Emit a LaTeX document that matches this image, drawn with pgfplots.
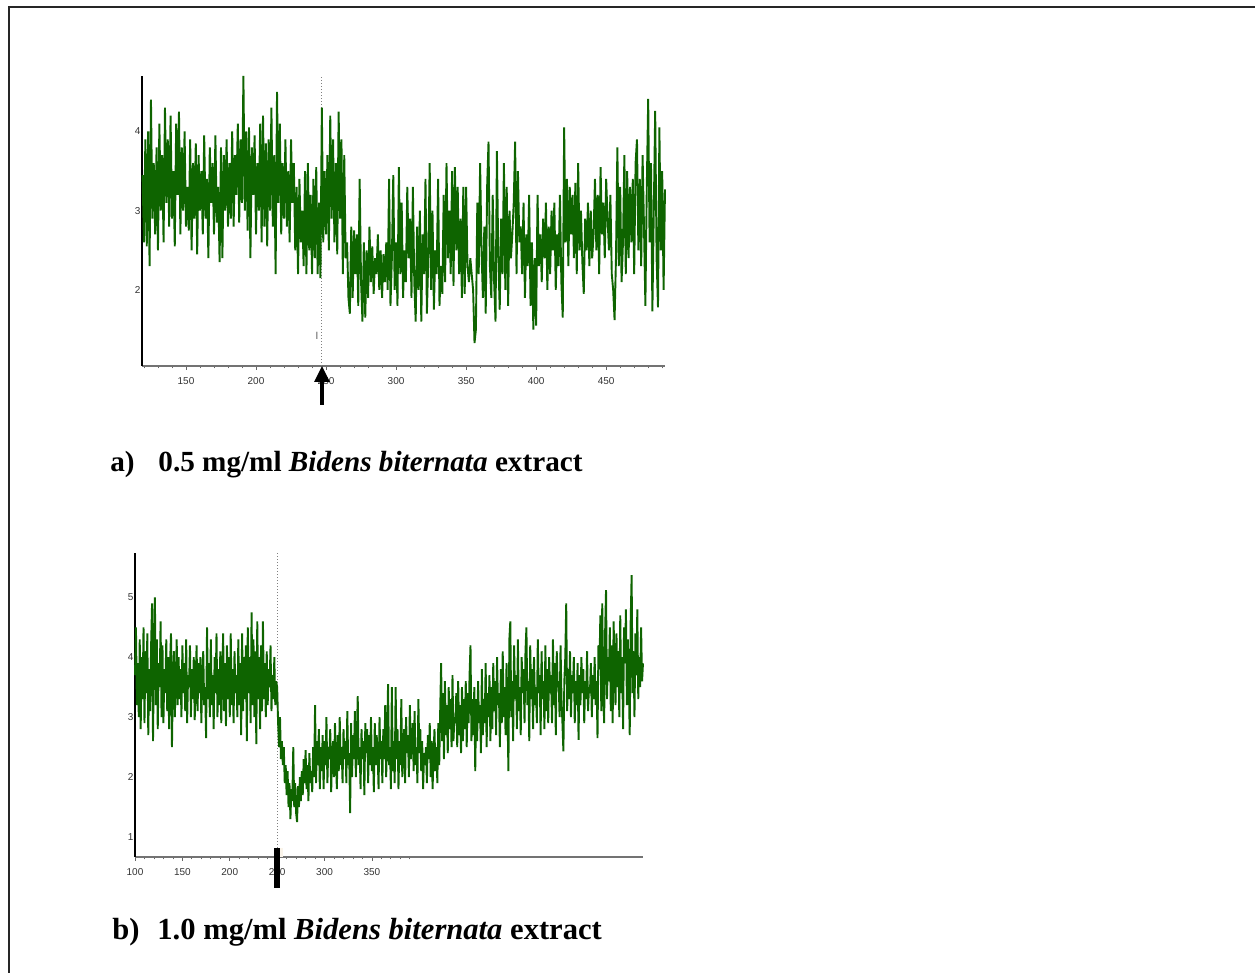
\documentclass[border=0pt]{standalone}
\usepackage{fontspec}
\setmainfont{Liberation Serif}
\newfontfamily\ticksans{Liberation Sans}
\usepackage{pgfplots}
\pgfplotsset{compat=1.18}
\usetikzlibrary{arrows.meta}

\definecolor{trace}{RGB}{14,100,0}

% shared look of the two recordings
\pgfplotsset{
  recording/.style={
    scale only axis,
    clip=false,
    axis x line=bottom, axis y line=left,
    x axis line style={-, draw=black!55, line width=1pt},
    y axis line style={-, draw=black, line width=0.6pt},
    tick align=outside,
    major tick length=2pt, minor tick length=1.2pt,
    xtick style={draw=black!60, line width=0.4pt},
    ytick style={draw=none},
    ticklabel style={font=\ticksans\fontsize{5}{6}\selectfont, text=black!80},
    yticklabel style={xshift=4.7pt},
    /pgf/number format/assume math mode=true,
  },
}

\begin{document}
\begin{tikzpicture}
\path[use as bounding box] (0,0) rectangle (627.5pt,486.5pt);
\draw[line width=1pt, black!85] (4.5pt,-5pt) -- (4.5pt,483pt) -- (640pt,483pt);

% a) 0.5 mg/ml
\begin{axis}[recording,
  at={(71pt,303.5pt)}, anchor=south west,
  width=261.5pt, height=145pt,
  xmin=118.6, xmax=492, ymin=1.04, ymax=4.7,
  xtick={150,200,250,300,350,400,450},
  minor xtick={120,130,140,160,170,180,190,210,220,230,240,260,270,280,290,310,320,330,340,360,370,380,390,410,420,430,440,460,470,480,490},
  ytick={2,3,4},
]
\draw[black!50, densely dotted, line width=0.5pt] (axis cs:247.1,1.04) -- (axis cs:247.1,4.7);
\addplot[trace, line width=0.95pt] coordinates {
(119,3.45)(120,2.6)(121,3.9)(122,2.55)(123,4.0)(124,2.3)(125,4.4)(126,2.9)(127,3.6)(128,2.7)
(129,3.8)(130,2.5)(131,4.1)(132,3.0)(133,3.7)(134,2.6)(135,4.3)(136,3.1)(137,3.9)(138,2.8)
(139,4.2)(140,2.9)(141,3.5)(142,2.55)(143,4.1)(144,3.2)(145,4.25)(146,2.7)(147,3.8)(148,3.0)
(149,4.0)(150,2.8)(151,3.3)(152,2.75)(153,3.9)(154,2.5)(155,3.6)(156,2.9)(157,3.85)(158,2.45)
(159,3.7)(160,3.0)(161,3.5)(162,2.7)(163,3.95)(164,2.9)(165,3.4)(166,2.4)(167,3.8)(168,3.1)
(169,3.6)(170,2.7)(171,3.95)(172,2.85)(173,3.3)(174,2.35)(175,3.8)(176,2.4)(177,3.7)(178,3.0)
(179,3.9)(180,2.8)(181,3.6)(182,2.9)(183,4.0)(184,2.8)(185,3.7)(186,3.2)(187,4.1)(188,2.85)
(189,3.9)(190,3.1)(191,4.7)(192,3.0)(193,4.0)(194,2.75)(195,4.05)(196,2.4)(197,3.8)(198,3.2)
(199,3.95)(200,2.7)(201,3.6)(202,3.0)(203,4.1)(204,2.6)(205,4.2)(206,2.8)(207,3.85)(208,2.55)
(209,3.9)(210,3.0)(211,4.3)(212,2.8)(213,3.7)(214,2.2)(215,4.5)(216,3.1)(217,4.1)(218,2.7)
(219,3.6)(220,2.9)(221,3.9)(222,2.8)(223,3.5)(224,2.6)(225,3.9)(226,3.1)(227,3.6)(228,2.5)
(229,3.3)(230,2.2)(231,3.4)(232,2.6)(233,3.0)(234,2.3)(235,3.5)(236,2.2)(237,3.6)(238,2.5)
(239,3.2)(240,2.2)(241,3.4)(242,2.4)(243,3.55)(244,2.2)(245,3.1)(246,2.15)(247,4.3)(248,2.6)
(249,3.5)(250,2.7)(251,3.7)(252,2.5)(253,4.2)(254,2.9)(255,3.9)(256,2.6)(257,3.6)(258,2.45)
(259,4.25)(260,2.9)(261,3.9)(262,2.2)(263,3.7)(264,2.4)(265,2.6)(266,1.9)(267,1.7)(268,2.8)
(269,1.9)(270,2.75)(271,2.2)(272,2.7)(273,1.8)(274,3.4)(275,2.1)(276,1.6)(277,2.6)(278,1.65)
(279,2.5)(280,1.9)(281,2.8)(282,2.1)(283,2.55)(284,1.95)(285,2.4)(286,2.2)(287,2.7)(288,2.0)
(289,2.5)(290,1.9)(291,2.45)(292,2.1)(293,2.6)(294,2.0)(295,3.4)(296,1.8)(297,2.4)(298,3.45)
(299,2.0)(300,2.6)(301,1.8)(302,3.55)(303,2.2)(304,3.1)(305,1.9)(306,2.5)(307,2.1)(308,3.3)
(309,2.4)(310,2.9)(311,1.9)(312,3.3)(313,2.1)(314,1.6)(315,2.8)(316,2.0)(317,3.0)(318,1.6)
(319,2.7)(320,2.2)(321,3.4)(322,1.7)(323,2.4)(324,3.6)(325,2.0)(326,3.0)(327,1.75)(328,2.5)
(329,2.2)(330,3.4)(331,1.8)(332,2.3)(333,1.95)(334,3.2)(335,2.1)(336,3.6)(337,2.4)(338,3.0)
(339,2.2)(340,3.5)(341,2.05)(342,3.55)(343,2.5)(344,3.3)(345,2.2)(346,2.9)(347,1.9)(348,3.3)
(349,1.95)(350,3.3)(351,2.3)(352,2.1)(353,2.4)(354,2.2)(355,2.0)(356,1.33)(357,1.5)(358,3.1)
(359,2.2)(360,3.6)(361,2.5)(362,1.9)(363,2.8)(364,1.7)(365,3.3)(366,3.87)(367,2.3)(368,1.9)
(369,3.2)(370,2.1)(371,1.6)(372,3.75)(373,2.4)(374,1.75)(375,2.9)(376,2.2)(377,3.6)(378,2.0)
(379,3.3)(380,1.8)(381,3.0)(382,2.4)(383,2.7)(384,3.1)(385,3.87)(386,2.2)(387,3.5)(388,2.6)
(389,2.8)(390,2.2)(391,3.1)(392,1.9)(393,2.7)(394,2.3)(395,3.2)(396,1.8)(397,2.6)(398,1.5)
(399,2.4)(400,1.55)(401,3.2)(402,2.3)(403,2.7)(404,2.1)(405,2.9)(406,2.4)(407,3.1)(408,2.0)
(409,2.8)(410,2.2)(411,3.0)(412,2.5)(413,3.1)(414,2.0)(415,2.7)(416,2.3)(417,3.2)(418,2.1)
(419,1.65)(420,4.05)(421,2.6)(422,3.4)(423,2.3)(424,3.3)(425,2.7)(426,3.2)(427,2.4)(428,3.35)
(429,2.2)(430,3.6)(431,2.5)(432,3.0)(433,2.35)(434,1.95)(435,2.9)(436,2.5)(437,3.1)(438,2.3)
(439,3.0)(440,2.4)(441,2.7)(442,3.4)(443,2.5)(444,3.2)(445,2.2)(446,3.55)(447,2.7)(448,3.1)
(449,2.4)(450,3.4)(451,2.9)(452,2.5)(453,3.2)(454,2.2)(455,2.0)(456,1.62)(457,2.4)(458,3.8)
(459,2.3)(460,3.3)(461,2.1)(462,2.6)(463,3.7)(464,2.2)(465,3.5)(466,2.4)(467,3.3)(468,2.6)
(469,3.4)(470,2.2)(471,3.6)(472,3.9)(473,2.5)(474,3.4)(475,2.3)(476,3.7)(477,2.8)(478,1.8)
(479,3.3)(480,4.41)(481,2.6)(482,3.6)(483,1.73)(484,3.0)(485,4.26)(486,2.4)(487,1.78)(488,4.05)
(489,2.5)(490,3.5)(491,2.0)(492,3.27)
};
\node[font=\ticksans\fontsize{5}{6}\selectfont, text=black!70] at (axis cs:243.6,1.42) {l};
\draw[line width=1.6pt, -{Triangle[width=7.5pt,length=8pt]}]
  (axis cs:247.1,1.04) ++(0pt,-19.5pt) -- (axis cs:247.1,1.04);
\end{axis}

\node[anchor=base west, inner sep=0pt, font=\fontsize{14.6}{17}\selectfont\bfseries] at (55pt,250.5pt) {a)};
\node[anchor=base west, inner sep=0pt, font=\fontsize{14.6}{17}\selectfont\bfseries] at (79pt,250.5pt)
  {0.5 mg/ml \textit{Bidens biternata} extract};

% b) 1.0 mg/ml
\begin{axis}[recording,
  at={(67.5pt,58pt)}, anchor=south west,
  width=254pt, height=152pt,
  xmin=100, xmax=636, ymin=0.667, ymax=5.74,
  xtick={100,150,200,250,300,350},
  minor xtick={110,120,130,140,160,170,180,190,210,220,230,240,260,270,280,290,310,320,330,340,360,370,380,390},
  ytick={1,2,3,4,5},
]
\draw[black!50, densely dotted, line width=0.5pt] (axis cs:250,0.667) -- (axis cs:250,5.74);
\addplot[trace, line width=0.95pt] coordinates {
(100,3.7)(101,4.5)(102,3.2)(103,3.9)(104,3.0)(105,4.3)(106,2.8)(107,4.0)(108,3.3)(109,4.5)
(110,2.9)(111,4.1)(112,3.4)(113,4.4)(114,2.7)(115,3.8)(116,3.1)(117,4.2)(118,4.9)(119,2.6)
(120,4.1)(121,5.0)(122,3.2)(123,4.3)(124,2.8)(125,3.9)(126,3.5)(127,4.6)(128,3.0)(129,4.2)
(130,2.9)(131,3.8)(132,3.4)(133,4.3)(134,3.1)(135,4.0)(136,2.8)(137,3.9)(138,4.4)(139,2.5)
(140,3.7)(141,4.1)(142,3.0)(143,3.6)(144,4.3)(145,3.2)(146,4.0)(147,3.3)(148,3.8)(149,3.0)
(150,4.2)(151,3.4)(152,3.9)(153,3.1)(154,4.3)(155,2.9)(156,3.7)(157,3.5)(158,4.2)(159,3.0)
(160,3.8)(161,3.3)(162,4.0)(163,2.95)(164,3.6)(165,4.2)(166,3.1)(167,3.9)(168,3.4)(169,4.0)
(170,2.9)(171,3.7)(172,4.1)(173,3.2)(174,3.5)(175,2.65)(176,4.5)(177,3.3)(178,3.9)(179,3.0)
(180,4.3)(181,3.2)(182,3.7)(183,2.8)(184,4.0)(185,3.4)(186,4.4)(187,3.0)(188,3.8)(189,3.2)
(190,4.1)(191,2.9)(192,3.6)(193,4.4)(194,3.1)(195,3.9)(196,2.85)(197,4.2)(198,3.3)(199,4.0)
(200,3.0)(201,4.4)(202,3.2)(203,3.8)(204,2.9)(205,4.1)(206,3.4)(207,3.7)(208,3.0)(209,4.3)
(210,3.2)(211,3.9)(212,2.7)(213,4.4)(214,3.1)(215,4.0)(216,3.3)(217,4.2)(218,2.6)(219,4.5)
(220,3.4)(221,4.0)(222,2.9)(223,4.75)(224,3.2)(225,4.3)(226,3.0)(227,4.1)(228,2.55)(229,4.6)
(230,3.3)(231,4.0)(232,2.8)(233,4.2)(234,3.1)(235,4.6)(236,3.3)(237,3.9)(238,3.0)(239,4.1)
(240,3.2)(241,3.8)(242,3.5)(243,4.2)(244,3.1)(245,3.7)(246,3.3)(247,4.0)(248,3.2)(249,3.6)
(250,3.5)(251,2.9)(252,2.5)(253,3.0)(254,2.3)(255,2.6)(256,2.2)(257,2.5)(258,1.9)(259,2.2)
(260,1.7)(261,2.1)(262,1.5)(263,1.9)(264,1.3)(265,1.8)(266,1.6)(267,2.5)(268,1.5)(269,1.9)
(270,1.4)(271,1.25)(272,1.85)(273,1.5)(274,2.0)(275,1.6)(276,2.1)(277,1.7)(278,2.3)(279,1.9)
(280,2.45)(281,1.8)(282,2.2)(283,1.6)(284,2.4)(285,1.9)(286,2.1)(287,1.75)(288,2.5)(289,2.0)
(290,3.2)(291,1.9)(292,2.6)(293,2.2)(294,2.8)(295,1.8)(296,2.5)(297,2.1)(298,2.7)(299,1.8)
(300,2.6)(301,2.2)(302,3.0)(303,1.9)(304,2.5)(305,2.3)(306,2.8)(307,1.75)(308,2.4)(309,2.6)
(310,2.0)(311,2.9)(312,2.3)(313,1.8)(314,2.7)(315,2.1)(316,3.0)(317,2.2)(318,2.5)(319,1.9)
(320,2.8)(321,2.3)(322,2.6)(323,1.9)(324,3.1)(325,2.2)(326,2.4)(327,1.4)(328,2.9)(329,2.0)
(330,2.7)(331,2.3)(332,3.1)(333,2.0)(334,2.6)(335,3.35)(336,2.2)(337,2.5)(338,1.8)(339,2.8)
(340,2.3)(341,2.6)(342,1.7)(343,2.9)(344,2.4)(345,2.8)(346,1.9)(347,2.7)(348,2.2)(349,3.0)
(350,2.1)(351,2.5)(352,1.75)(353,2.9)(354,2.2)(355,2.7)(356,2.4)(357,1.8)(358,3.0)(359,2.3)
(360,2.6)(361,1.9)(362,2.8)(363,2.3)(364,3.2)(365,2.0)(366,2.6)(367,3.55)(368,2.2)(369,2.5)
(370,1.8)(371,3.5)(372,2.1)(373,2.6)(374,1.9)(375,3.5)(376,2.3)(377,2.8)(378,1.8)(379,2.6)
(380,2.2)(381,3.3)(382,2.0)(383,2.5)(384,2.8)(385,1.9)(386,3.0)(387,2.4)(388,2.7)(389,2.0)
(390,3.2)(391,2.3)(392,2.6)(393,2.9)(394,2.1)(395,3.1)(396,2.2)(397,2.5)(398,1.9)(399,3.3)
(400,2.4)(401,2.8)(402,2.1)(403,2.6)(404,1.8)(405,2.4)(406,2.2)(407,2.5)(408,1.9)(409,2.7)
(410,2.3)(411,2.9)(412,2.0)(413,2.6)(414,1.8)(415,2.4)(416,2.8)(417,2.1)(418,2.5)(419,1.9)
(420,2.9)(421,2.2)(422,3.1)(423,3.9)(424,2.6)(425,3.4)(426,2.3)(427,3.6)(428,2.7)(429,3.2)
(430,2.4)(431,3.5)(432,2.8)(433,3.3)(434,2.5)(435,3.7)(436,2.6)(437,3.0)(438,2.9)(439,3.4)
(440,2.5)(441,3.6)(442,2.7)(443,3.2)(444,2.4)(445,3.5)(446,2.6)(447,3.3)(448,2.8)(449,3.6)
(450,2.5)(451,3.4)(452,2.9)(453,3.7)(454,4.2)(455,2.6)(456,3.3)(457,2.7)(458,3.5)(459,2.1)
(460,3.3)(461,2.6)(462,3.6)(463,2.9)(464,3.2)(465,2.4)(466,3.8)(467,2.7)(468,3.3)(469,2.9)
(470,3.9)(471,2.5)(472,3.4)(473,3.0)(474,3.7)(475,2.6)(476,3.5)(477,2.8)(478,3.9)(479,3.1)
(480,3.6)(481,2.7)(482,4.0)(483,3.2)(484,3.4)(485,2.5)(486,3.8)(487,2.9)(488,4.1)(489,3.0)
(490,3.5)(491,2.7)(492,3.9)(493,3.1)(494,2.1)(495,4.3)(496,4.6)(497,3.0)(498,3.6)(499,2.6)
(500,4.2)(501,3.3)(502,3.7)(503,2.8)(504,4.3)(505,3.1)(506,3.5)(507,2.7)(508,4.0)(509,3.4)
(510,3.8)(511,2.9)(512,4.1)(513,4.5)(514,3.2)(515,3.6)(516,2.6)(517,4.2)(518,3.3)(519,3.8)
(520,2.8)(521,4.0)(522,3.2)(523,3.5)(524,2.9)(525,4.3)(526,3.4)(527,3.7)(528,2.7)(529,4.1)
(530,3.3)(531,3.6)(532,2.8)(533,4.2)(534,3.1)(535,3.8)(536,2.9)(537,4.0)(538,3.4)(539,3.7)
(540,2.9)(541,4.3)(542,3.2)(543,3.9)(544,2.7)(545,4.1)(546,3.5)(547,3.6)(548,3.0)(549,4.2)
(550,3.3)(551,2.9)(552,2.43)(553,3.6)(554,4.0)(555,4.9)(556,3.1)(557,3.8)(558,3.3)(559,4.1)
(560,3.0)(561,3.7)(562,3.4)(563,4.0)(564,2.9)(565,3.6)(566,3.2)(567,3.9)(568,2.62)(569,3.7)
(570,3.2)(571,4.0)(572,3.4)(573,3.8)(574,2.9)(575,3.6)(576,3.3)(577,4.1)(578,3.1)(579,3.5)
(580,3.4)(581,3.9)(582,3.0)(583,3.7)(584,3.3)(585,4.0)(586,3.2)(587,3.6)(588,2.65)(589,4.2)
(590,3.8)(591,4.7)(592,3.1)(593,4.9)(594,3.5)(595,2.9)(596,4.4)(597,5.12)(598,3.3)(599,4.0)
(600,3.6)(601,4.5)(602,3.1)(603,4.2)(604,2.9)(605,4.6)(606,3.8)(607,3.2)(608,4.4)(609,3.5)
(610,4.1)(611,3.0)(612,4.7)(613,3.4)(614,4.0)(615,2.8)(616,4.5)(617,3.9)(618,4.8)(619,3.2)
(620,4.3)(621,3.6)(622,2.7)(623,4.6)(624,5.37)(625,3.4)(626,4.1)(627,3.0)(628,4.4)(629,3.7)
(630,4.8)(631,3.3)(632,4.0)(633,3.5)(634,4.5)(635,3.6)(636,3.9)
};
\fill[black] (axis cs:250,0.667) ++(-1.6pt,4.5pt) rectangle ++(3.2pt,-20pt);
\fill[yellow!15!brown!10] (axis cs:250,0.667) ++(1.6pt,4.5pt) rectangle ++(1.5pt,-4.5pt);
\end{axis}

\node[anchor=base west, inner sep=0pt, font=\fontsize{15.3}{18}\selectfont\bfseries] at (56pt,16.5pt) {b)};
\node[anchor=base west, inner sep=0pt, font=\fontsize{15.3}{18}\selectfont\bfseries] at (78.5pt,16.5pt)
  {1.0 mg/ml \textit{Bidens biternata} extract};
\end{tikzpicture}
\end{document}
